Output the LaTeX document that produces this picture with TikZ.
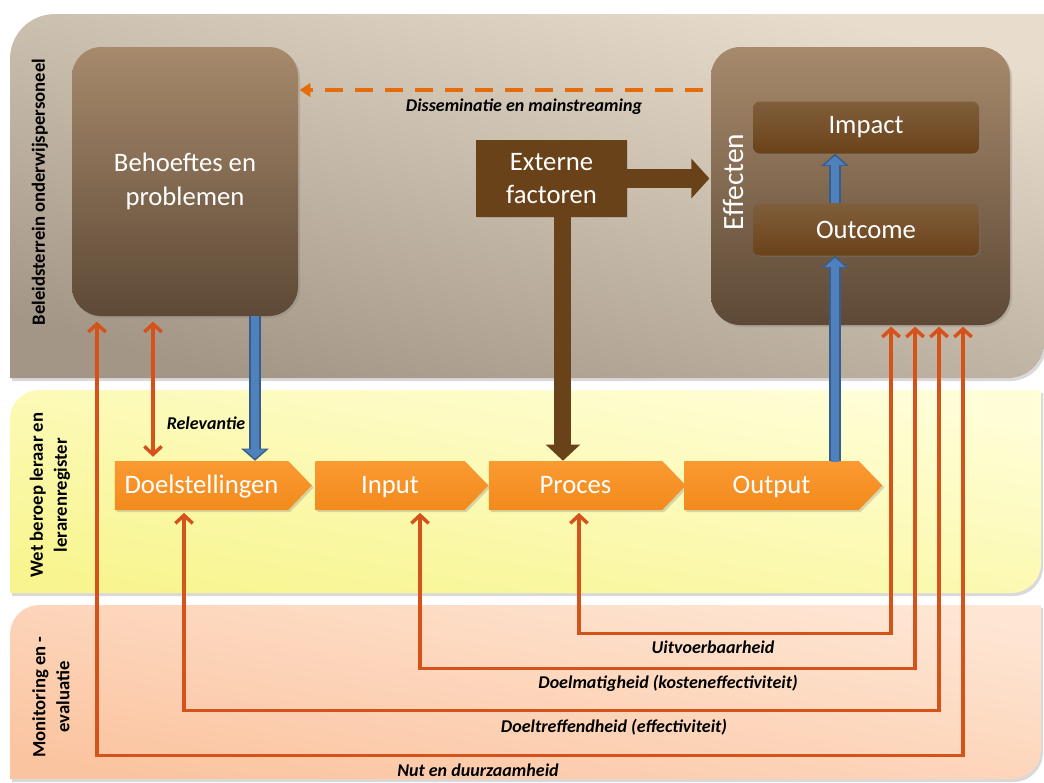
\documentclass[tikz,border=0pt]{standalone}
\usepackage{fontspec}
\setmainfont{Carlito}
\usetikzlibrary{arrows.meta,shapes.symbols,shadows,calc}
\definecolor{bandAt}{HTML}{E8DDCC}
\definecolor{bandAb}{HTML}{A39686}
\definecolor{bandBt}{HTML}{FFFED8}
\definecolor{bandBb}{HTML}{F8F590}
\definecolor{bandCt}{HTML}{FEE6D4}
\definecolor{bandCb}{HTML}{FBC4A0}
\definecolor{boxTop}{HTML}{A78A6C}
\definecolor{boxBot}{HTML}{5D4936}
\definecolor{darkbrown}{HTML}{6A4219}
\definecolor{chevTop}{HTML}{FA9A32}
\definecolor{chevBot}{HTML}{F28A1C}
\definecolor{fbcol}{HTML}{D5521B}
\definecolor{dashcol}{HTML}{E46C0A}
\definecolor{bluemain}{HTML}{4F81BD}
\definecolor{bluedark}{HTML}{385D8A}
\begin{document}
\begin{tikzpicture}[x=0.75pt,y=-0.75pt,
  bigbox/.style={rounded corners=22pt, top color=boxTop, bottom color=boxBot, draw=none,
    text=white, align=center, font=\fontsize{20}{25}\selectfont,
    drop shadow={opacity=0.3,shadow xshift=1.5pt,shadow yshift=-1.5pt}},
  smallbox/.style={rounded corners=5pt, top color=darkbrown!85!white, bottom color=darkbrown, draw=none,
    text=white, font=\fontsize{20}{24}\selectfont, minimum width=169.5pt, minimum height=39pt,
    drop shadow={opacity=0.3,shadow xshift=1pt,shadow yshift=-1pt}},
  extbox/.style={fill=darkbrown, draw=none, text=white, align=center,
    font=\fontsize{20}{25}\selectfont, minimum width=113.25pt, minimum height=57.75pt,
    drop shadow={opacity=0.3,shadow xshift=1pt,shadow yshift=-1pt}},
  chev/.style={signal, signal to=east, signal from=nowhere, signal pointer angle=92,
    minimum height=36.75pt, inner sep=0pt, text height=12.5pt, text depth=1pt,
    top color=chevTop, bottom color=chevBot, draw=none,
    text=white, font=\fontsize{20}{24}\selectfont,
    drop shadow={opacity=0.3,shadow xshift=1.5pt,shadow yshift=-1.5pt}},
  lbl/.style={font=\fontsize{13.5}{16}\selectfont\bfseries\itshape, text=black, inner sep=0pt},
  bandlbl/.style={font=\fontsize{14}{18}\selectfont\bfseries, text=black, rotate=90, align=center, inner sep=0pt},
  fbarrow/.style={draw=fbcol, line width=2.6pt,
    arrows={Straight Barb[length=6pt,width=13pt]-Straight Barb[length=6pt,width=13pt]}},
  blueout/.style={draw=bluedark, line width=9.5pt, arrows={-Triangle[width=20pt,length=9pt]}},
  bluein/.style={draw=bluemain, line width=6.5pt, arrows={-Triangle[width=15.5pt,length=7pt]}, shorten >=1.6pt},
  brownarr/.style={draw=darkbrown, arrows={-Triangle[width=25pt,length=12pt]}}
]
\path[use as bounding box, fill=white] (0,0) rectangle (1044,782);

% bands
\begin{scope}[shift={(2,3)}]
\fill[black, opacity=0.15] (10,378) -- (10,59) .. controls (10,34) and (30,14) .. (55,14) -- (1044,14) -- (1044,342) .. controls (1044,362) and (1028,378) .. (1008,378) -- cycle;
\fill[black, opacity=0.15] (10,593) -- (10,420) .. controls (10,403) and (23,390) .. (40,390) -- (1041,390) -- (1041,563) .. controls (1041,580) and (1028,593) .. (1011,593) -- cycle;
\fill[black, opacity=0.15] (10,779) -- (10,635) .. controls (10,618) and (23,605) .. (40,605) -- (1041,605) -- (1041,749) .. controls (1041,766) and (1028,779) .. (1011,779) -- cycle;
\end{scope}
\shade[top color=bandAt, bottom color=bandAb, shading angle=-15] (10,378) -- (10,59) .. controls (10,34) and (30,14) .. (55,14) -- (1044,14) -- (1044,342) .. controls (1044,362) and (1028,378) .. (1008,378) -- cycle;
\shade[top color=bandBt, bottom color=bandBb, shading angle=-10] (10,593) -- (10,420) .. controls (10,403) and (23,390) .. (40,390) -- (1041,390) -- (1041,563) .. controls (1041,580) and (1028,593) .. (1011,593) -- cycle;
\shade[top color=bandCt, bottom color=bandCb, shading angle=-10] (10,779) -- (10,635) .. controls (10,618) and (23,605) .. (40,605) -- (1041,605) -- (1041,749) .. controls (1041,766) and (1028,779) .. (1011,779) -- cycle;

% band labels
\node[bandlbl] (b1) at (40,192) {Beleidsterrein onderwijspersoneel};
\node[bandlbl] (b2) at (50,495) {Wet beroep leraar en\\lerarenregister};
\node[bandlbl] (b3) at (51,697) {Monitoring en -\\evaluatie};

% main boxes
\node[bigbox, minimum width=169.5pt, minimum height=201.75pt] (beh) at (185,181.5) {Behoeftes en\\problemen};
\node[bigbox, minimum width=224.25pt, minimum height=208.5pt] (eff) at (860.5,186) {};
\node[text=white, rotate=90, font=\fontsize{22}{26}\selectfont, inner sep=0pt] (efflbl) at (733,182) {Effecten};
\node[smallbox] (imp) at (866,127.5) {Impact};
\node[smallbox] (outc) at (866,229.5) {Outcome};
\node[extbox] (ext) at (551.5,178.5) {Externe\\factoren};

% chevrons
\node[chev, minimum width=147.75pt] (doel) at (201.5,485.5) {Doelstellingen};
\node[chev, minimum width=129.75pt] (inp) at (390,485.5) {Input};
\node[chev, minimum width=147.75pt] (proc) at (575.5,485.5) {Proces};
\node[chev, minimum width=148.5pt] (outp) at (771.5,485.5) {Output};

% brown arrows
\draw[brownarr, line width=12.75pt] ([xshift=8.6pt]ext.south) -- ([xshift=8.6pt]ext.south |- proc.north);
\draw[brownarr, line width=14.25pt, arrows={-Triangle[width=29pt,length=13.5pt]}] (ext.east) -- ([xshift=-1pt]eff.west |- ext.east);

% blue arrows
\draw[blueout] ([xshift=52.5pt]beh.south) -- ([xshift=52.5pt]beh.south |- doel.north);
\draw[bluein] ([xshift=52.5pt]beh.south) -- ([xshift=52.5pt]beh.south |- doel.north);
\draw[blueout] ([xshift=-23.25pt]outc.south |- outp.north) -- ([xshift=-23.25pt]outc.south);
\draw[bluein] ([xshift=-23.25pt,yshift=-1pt]outc.south |- outp.north) -- ([xshift=-23.25pt]outc.south);
\draw[blueout] ([xshift=-23.25pt]outc.north) -- ([xshift=-23.25pt]imp.south);
\draw[bluein] ([xshift=-23.25pt]outc.north) -- ([xshift=-23.25pt]imp.south);

% dashed dissemination arrow
\draw[draw=dashcol, line width=3pt, dash pattern=on 13.5pt off 9pt, shorten <=6pt,
  arrows={-Triangle[width=10pt,length=8pt]}] ([yshift=72pt]eff.west) -- ([yshift=72pt,xshift=1pt]eff.west -| beh.east);
\node[lbl] (ldis) at (524,107) {Disseminatie en mainstreaming};

% relevance
\draw[fbarrow, shorten <=4pt] ([xshift=-24pt]beh.south) -- ([xshift=-24pt,yshift=3pt]beh.south |- doel.north);
\node[lbl] (lrel) at (206,423) {Relevantie};

% feedback loops
\draw[fbarrow, shorten <=2pt] ([xshift=2.6pt]proc.south) -- ++(0,123) -| ([xshift=22.9pt,yshift=-1pt]eff.south);
\draw[fbarrow, shorten <=2pt] ([xshift=22.5pt]inp.south) -- ++(0,158) -| ([xshift=40.9pt,yshift=-1pt]eff.south);
\draw[fbarrow, shorten <=2pt] ([xshift=-13.1pt]doel.south) -- ++(0,200) -| ([xshift=58.9pt,yshift=-1pt]eff.south);
\draw[fbarrow, shorten <=4pt] ([xshift=-66pt]beh.south) -- ++(0,439) -| ([xshift=76.9pt,yshift=-1pt]eff.south);

\node[lbl] (luit) at (713,647) {Uitvoerbaarheid};
\node[lbl] (ldm) at (668,683) {Doelmatigheid (kosteneffectiviteit)};
\node[lbl] (ldt) at (614,727) {Doeltreffendheid (effectiviteit)};
\node[lbl] (lnut) at (478,770) {Nut en duurzaamheid};
\end{tikzpicture}
\end{document}
